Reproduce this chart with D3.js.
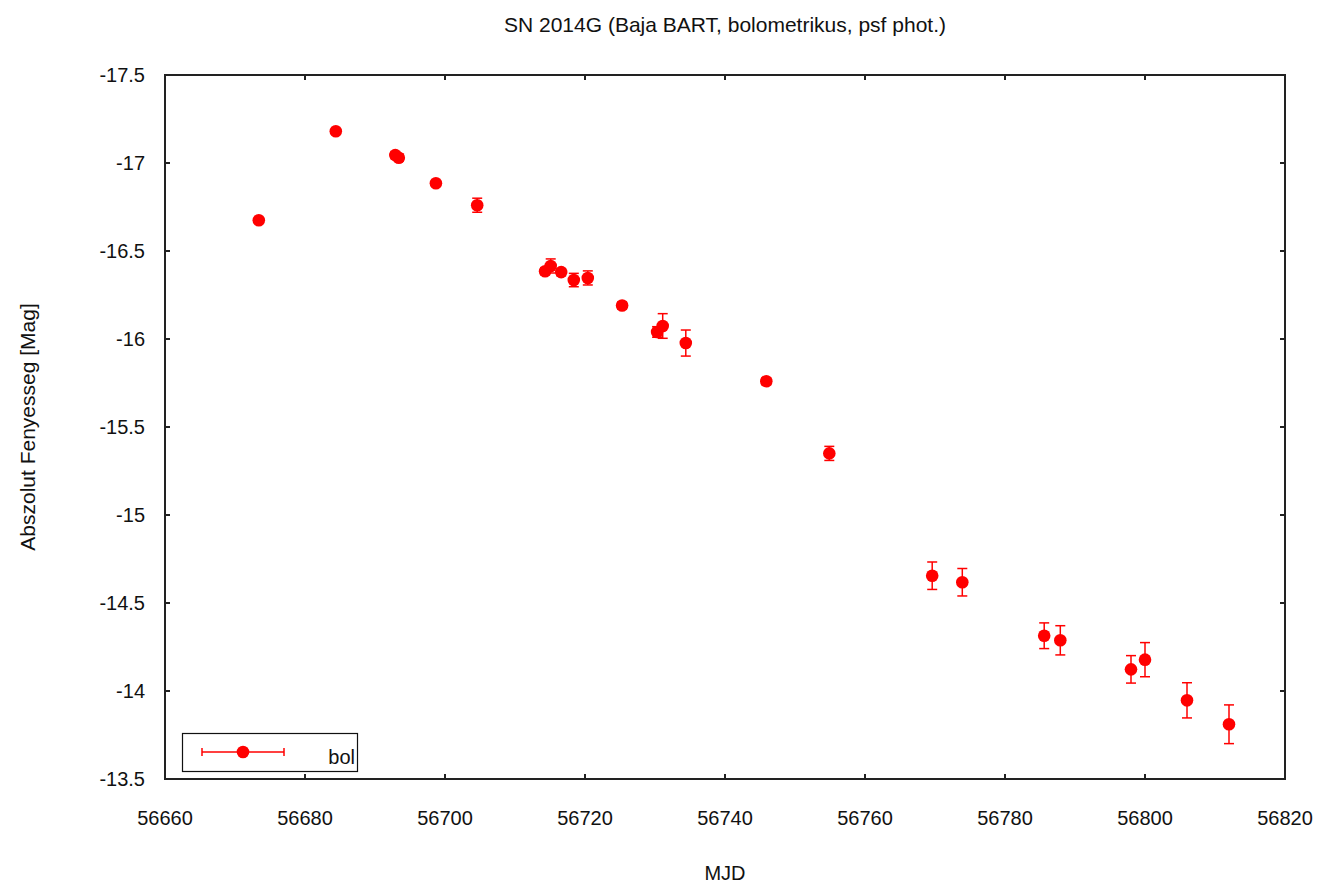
<!DOCTYPE html>
<html lang="en">
<head>
  <meta charset="UTF-8">
  <title>SN 2014G bolometric light curve</title>
  <script src="https://d3js.org/d3.v7.min.js"></script>
  <style>
    body { margin: 0; background: #fff; }
    text { font-family: "Liberation Sans", Arial, sans-serif; fill: #111; }
    .frame { fill: none; stroke: #222; stroke-width: 1.5; }
    .tick-mark { stroke: #222; stroke-width: 1.5; }
    .err { stroke: #f00; stroke-width: 1.5; }
    .pt { fill: #f00; }
  </style>
</head>
<body>
  <div id="chart"></div>
  <script>
    // data
    const mjd = [56673.4, 56684.4, 56692.9, 56693.4, 56698.7, 56704.6,
                 56714.3, 56715.1, 56716.6, 56718.4, 56720.4, 56725.3,
                 56730.3, 56731.1, 56734.4, 56745.9, 56754.9,
                 56769.6, 56773.9, 56785.6, 56787.9, 56798.0, 56800.0,
                 56806.0, 56812.0];
    const mag = [-16.675, -17.18, -17.045, -17.03, -16.885, -16.76,
                 -16.385, -16.415, -16.38, -16.335, -16.347, -16.19,
                 -16.04, -16.074, -15.977, -15.76, -15.35,
                 -14.655, -14.618, -14.314, -14.288, -14.123, -14.178,
                 -13.947, -13.811];
    const magErr = [0.01, 0.01, 0.02, 0.02, 0.01, 0.04,
                    0.02, 0.04, 0.02, 0.038, 0.04, 0.02,
                    0.03, 0.07, 0.074, 0.02, 0.04,
                    0.078, 0.078, 0.073, 0.083, 0.078, 0.097,
                    0.10, 0.11];

    const xTicks = [56660, 56680, 56700, 56720, 56740, 56760, 56780, 56800, 56820];
    const yTicks = [-17.5, -17, -16.5, -16, -15.5, -15, -14.5, -14, -13.5];

    const W = 1317, H = 886;
    const margin = { top: 75, right: 32, bottom: 107, left: 165 };

    const svg = d3.select("#chart").append("svg")
      .attr("width", W).attr("height", H);

    const x = d3.scaleLinear().domain([56660, 56820]).range([margin.left, W - margin.right]);
    const y = d3.scaleLinear().domain([-17.5, -13.5]).range([margin.top, H - margin.bottom]);

    const x0 = x.range()[0], x1 = x.range()[1];
    const y0 = y.range()[0], y1 = y.range()[1];
    const tl = 5;

    // ticks on all four sides, pointing inward
    const g = svg.append("g").attr("shape-rendering", "crispEdges");
    xTicks.forEach(t => {
      g.append("line").attr("class", "tick-mark")
        .attr("x1", x(t)).attr("x2", x(t)).attr("y1", y1).attr("y2", y1 - tl);
      g.append("line").attr("class", "tick-mark")
        .attr("x1", x(t)).attr("x2", x(t)).attr("y1", y0).attr("y2", y0 + tl);
      svg.append("text")
        .attr("x", x(t)).attr("y", y1 + 46)
        .attr("text-anchor", "middle")
        .style("font-size", "20px")
        .text(t);
    });
    yTicks.forEach(t => {
      g.append("line").attr("class", "tick-mark")
        .attr("x1", x0).attr("x2", x0 + tl).attr("y1", y(t)).attr("y2", y(t));
      g.append("line").attr("class", "tick-mark")
        .attr("x1", x1).attr("x2", x1 - tl).attr("y1", y(t)).attr("y2", y(t));
      svg.append("text")
        .attr("x", x0 - 20).attr("y", y(t) + 7)
        .attr("text-anchor", "end")
        .style("font-size", "20px")
        .text(t);
    });

    g.append("rect").attr("class", "frame")
      .attr("x", x0).attr("y", y0)
      .attr("width", x1 - x0).attr("height", y1 - y0);

    // error bars
    const pts = mjd.map((d, i) => ({ t: d, m: mag[i], e: magErr[i] }));
    const cap = 5;
    const eb = svg.append("g");
    pts.forEach(p => {
      const cx = x(p.t), ya = y(p.m - p.e), yb = y(p.m + p.e);
      eb.append("line").attr("class", "err").attr("x1", cx).attr("x2", cx).attr("y1", ya).attr("y2", yb);
      eb.append("line").attr("class", "err").attr("x1", cx - cap).attr("x2", cx + cap).attr("y1", ya).attr("y2", ya);
      eb.append("line").attr("class", "err").attr("x1", cx - cap).attr("x2", cx + cap).attr("y1", yb).attr("y2", yb);
    });

    svg.append("g").selectAll("circle")
      .data(pts).enter().append("circle")
      .attr("class", "pt")
      .attr("cx", d => x(d.t))
      .attr("cy", d => y(d.m))
      .attr("r", 6.3);

    // legend
    const lg = svg.append("g");
    lg.append("rect")
      .attr("x", 182.5).attr("y", 733.5).attr("width", 175).attr("height", 38)
      .attr("fill", "#fff").attr("stroke", "#111").attr("stroke-width", 1.2);
    lg.append("line").attr("class", "err").attr("x1", 202).attr("x2", 284).attr("y1", 752).attr("y2", 752);
    lg.append("line").attr("class", "err").attr("x1", 202).attr("x2", 202).attr("y1", 748).attr("y2", 756);
    lg.append("line").attr("class", "err").attr("x1", 284).attr("x2", 284).attr("y1", 748).attr("y2", 756);
    lg.append("circle").attr("class", "pt").attr("cx", 243).attr("cy", 752).attr("r", 6.3);
    lg.append("text").attr("x", 355).attr("y", 764)
      .attr("text-anchor", "end").style("font-size", "20px").text("bol");

    // titles
    svg.append("text")
      .attr("x", (x0 + x1) / 2).attr("y", 32)
      .attr("text-anchor", "middle")
      .style("font-size", "21px")
      .text("SN 2014G (Baja BART, bolometrikus, psf phot.)");

    svg.append("text")
      .attr("x", (x0 + x1) / 2).attr("y", 880)
      .attr("text-anchor", "middle")
      .style("font-size", "20px")
      .text("MJD");

    svg.append("text")
      .attr("transform", `translate(35,${(y0 + y1) / 2}) rotate(-90)`)
      .attr("text-anchor", "middle")
      .style("font-size", "21px")
      .text("Abszolut Fenyesseg [Mag]");
  </script>
</body>
</html>
